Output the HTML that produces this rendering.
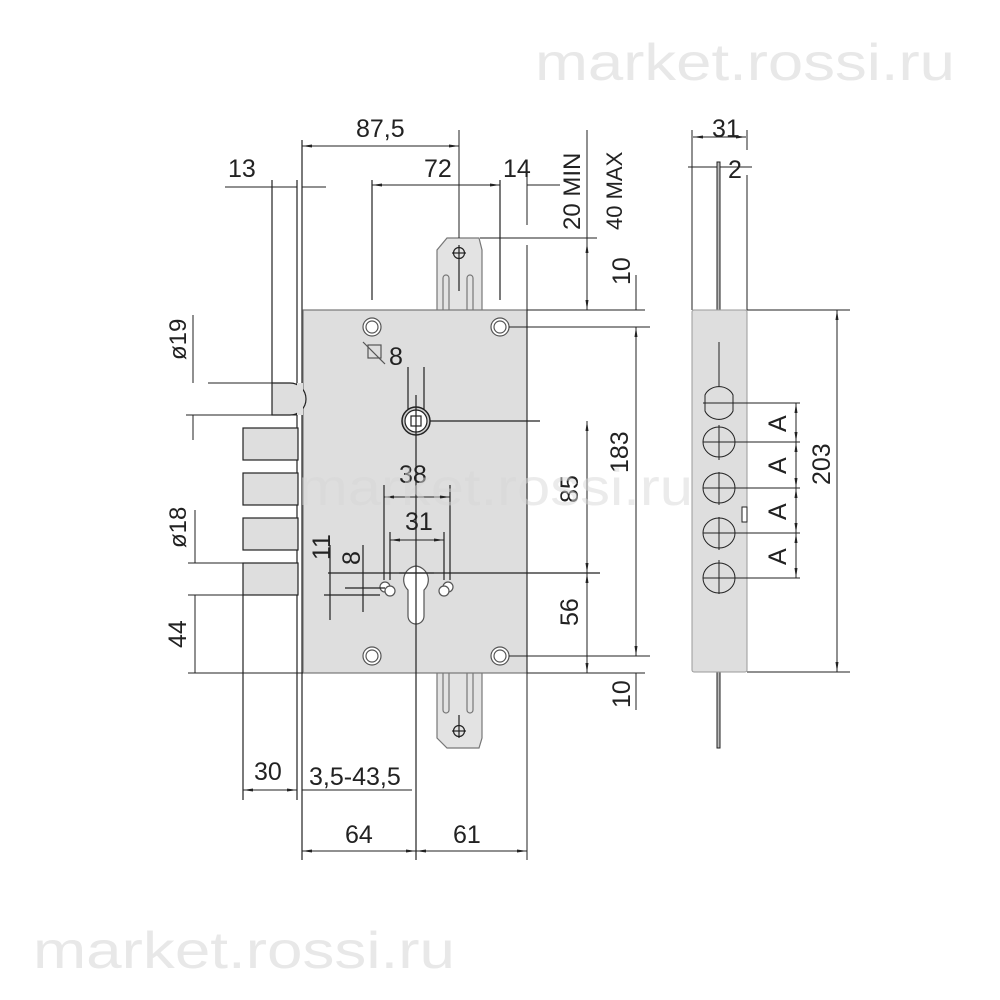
<!DOCTYPE html>
<html><head><meta charset="utf-8"><style>
html,body{margin:0;padding:0;background:#fff;width:1000px;height:1000px;overflow:hidden}
svg{display:block}
text{font-family:"Liberation Sans",sans-serif;fill:#222}
.d{font-size:24px}
</style></head><body>
<svg width="1000" height="1000" viewBox="0 0 1000 1000" xmlns="http://www.w3.org/2000/svg">
<defs>
<marker id="a" markerWidth="10" markerHeight="6" refX="10" refY="3" orient="auto-start-reverse" markerUnits="userSpaceOnUse"><path d="M0,1.5 L10,3 L0,4.5z" fill="#222"/></marker>
</defs>
<!-- watermarks -->
<text x="535" y="80" font-size="52" textLength="420" lengthAdjust="spacingAndGlyphs" style="fill:#e8e8e8">market.rossi.ru</text>
<text x="33" y="968" font-size="52" textLength="422" lengthAdjust="spacingAndGlyphs" style="fill:#e8e8e8">market.rossi.ru</text>

<g stroke="#222" stroke-width="1.2" fill="none">
<line x1="297" y1="180" x2="297" y2="800"/>
<line x1="302" y1="140" x2="302" y2="860"/>
<line x1="272" y1="180" x2="272" y2="383"/>
<line x1="243" y1="595" x2="243" y2="800"/>
<path d="M437,310 L437,250 L447,238 L479,238 L482,250 L482,310" fill="#e3e3e3" stroke="#777"/>
<circle cx="459" cy="253" r="5.5"/><line x1="452" y1="253" x2="466" y2="253"/><line x1="459" y1="245" x2="459" y2="291"/>
<path d="M443,310 V278 a3,3 0 0 1 6,0 V310 M467,310 V278 a3,3 0 0 1 6,0 V310" stroke="#777"/>
<path d="M437,673 L437,738 L447,748 L479,748 L482,738 L482,673" fill="#e3e3e3" stroke="#777"/>
<circle cx="459" cy="731" r="5.5"/><line x1="452" y1="731" x2="466" y2="731"/><line x1="459" y1="715" x2="459" y2="738"/>
<path d="M443,673 V710 a3,3 0 0 0 6,0 V673 M467,673 V710 a3,3 0 0 0 6,0 V673" stroke="#777"/>
<rect x="303" y="310" width="224" height="363" fill="#dedede" stroke="#777"/>
<path d="M272,383 H290 A16,16 0 0 1 290,415 H272 Z" fill="#dedede"/>
<rect x="297" y="383" width="6" height="32" fill="#dedede" stroke="none"/>
<rect x="243" y="428" width="55" height="32" fill="#dedede"/>
<rect x="243" y="473" width="55" height="32" fill="#dedede"/>
<rect x="243" y="518" width="55" height="32" fill="#dedede"/>
<rect x="243" y="563" width="55" height="32" fill="#dedede"/>
<g fill="#fff" stroke="#555">
<circle cx="372" cy="327" r="9"/><circle cx="372" cy="327" r="6"/>
<circle cx="500" cy="327" r="9"/><circle cx="500" cy="327" r="6"/>
<circle cx="372" cy="656" r="9"/><circle cx="372" cy="656" r="6"/>
<circle cx="500" cy="656" r="9"/><circle cx="500" cy="656" r="6"/>
</g>
<circle cx="416" cy="421" r="14" fill="#ccc" stroke="#222" stroke-width="1.5"/>
<circle cx="416" cy="421" r="11" fill="#fff"/>
<rect x="411" y="416" width="10" height="10" fill="#fff"/>
<line x1="416" y1="395" x2="416" y2="460"/>
<line x1="430" y1="421" x2="540" y2="421"/>
<line x1="372" y1="300" x2="372" y2="180"/>
<line x1="500" y1="300" x2="500" y2="180"/>
<path d="M408,590 V616 a8,8 0 0 0 16,0 V590 a14,14 0 0 0 -8,-24 a14,14 0 0 0 -8,24 Z" fill="#fff" stroke="#555"/>
<line x1="399" y1="573" x2="434" y2="573" stroke="#555"/>
<circle cx="385" cy="587" r="5" fill="#fff" stroke="#555"/><circle cx="390" cy="591" r="5" fill="#fff" stroke="#555"/>
<circle cx="448" cy="587" r="5" fill="#fff" stroke="#555"/><circle cx="444" cy="591" r="5" fill="#fff" stroke="#555"/>
<line x1="416" y1="460" x2="416" y2="860"/>
<line x1="328" y1="573" x2="600" y2="573"/>
<line x1="324" y1="595" x2="380" y2="595"/>
<line x1="345" y1="588" x2="385" y2="588"/>
<line x1="330" y1="545" x2="330" y2="620"/>
<line x1="363" y1="545" x2="363" y2="612"/>
<line x1="384" y1="485" x2="384" y2="580"/>
<line x1="450" y1="485" x2="450" y2="580"/>
<line x1="390" y1="532" x2="390" y2="580"/>
<line x1="444" y1="532" x2="444" y2="580"/>
<line x1="408" y1="367" x2="408" y2="410"/><line x1="424" y1="367" x2="424" y2="410"/>
<rect x="368" y="345" width="13" height="13" stroke="#555"/>
<line x1="363" y1="342" x2="385" y2="364" stroke="#555"/>
</g>

<g stroke="#222" stroke-width="1" fill="none" marker-start="url(#a)" marker-end="url(#a)">
<line x1="302" y1="146" x2="459" y2="146"/>
<line x1="372" y1="185" x2="500" y2="185"/>
<line x1="416" y1="497" x2="450" y2="497" marker-start="none"/>
<line x1="384" y1="497" x2="416" y2="497" marker-end="none"/>
<line x1="390" y1="540" x2="444" y2="540"/>
<line x1="243" y1="790" x2="297" y2="790"/>
<line x1="302" y1="851" x2="416" y2="851"/>
<line x1="416" y1="851" x2="527" y2="851"/>
<line x1="587" y1="421" x2="587" y2="573"/>
<line x1="587" y1="573" x2="587" y2="673"/>
<line x1="636" y1="327" x2="636" y2="656"/>
<line x1="587" y1="243" x2="587" y2="310"/>
<line x1="837" y1="310" x2="837" y2="672"/>
<line x1="693" y1="137" x2="746" y2="137"/>
<line x1="796" y1="403" x2="796" y2="442"/>
<line x1="796" y1="442" x2="796" y2="488"/>
<line x1="796" y1="488" x2="796" y2="533"/>
<line x1="796" y1="533" x2="796" y2="578"/>
</g>
<g stroke="#222" stroke-width="1" fill="none">
<line x1="459" y1="130" x2="459" y2="238"/>
<line x1="527" y1="160" x2="527" y2="225"/>
<line x1="527" y1="245" x2="527" y2="860"/>
<line x1="480" y1="238" x2="597" y2="238"/>
<line x1="527" y1="185" x2="560" y2="185"/>
<line x1="587" y1="130" x2="587" y2="243"/>
<line x1="527" y1="310" x2="645" y2="310"/>
<line x1="636" y1="275" x2="636" y2="310"/>
<line x1="509" y1="327" x2="650" y2="327"/>
<line x1="509" y1="656" x2="650" y2="656"/>
<line x1="527" y1="673" x2="645" y2="673"/>
<line x1="636" y1="673" x2="636" y2="710"/>
<line x1="225" y1="187" x2="272" y2="187"/><line x1="302" y1="187" x2="326" y2="187"/>
<line x1="272" y1="187" x2="297" y2="187"/>
<line x1="208" y1="383" x2="272" y2="383"/>
<line x1="186" y1="415" x2="297" y2="415"/>
<line x1="193" y1="315" x2="193" y2="383"/><line x1="193" y1="415" x2="193" y2="440"/>
<line x1="188" y1="563" x2="243" y2="563"/>
<line x1="188" y1="595" x2="243" y2="595"/>
<line x1="188" y1="673" x2="303" y2="673"/>
<line x1="195" y1="510" x2="195" y2="563"/><line x1="195" y1="595" x2="195" y2="673"/>
<line x1="243" y1="760" x2="243" y2="800"/>
<line x1="302" y1="790" x2="412" y2="790"/>
</g>

<g stroke="#222" stroke-width="1" fill="none">
<line x1="692" y1="130" x2="692" y2="310"/>
<line x1="747" y1="130" x2="747" y2="150"/>
<line x1="747" y1="175" x2="747" y2="310"/>
<line x1="688" y1="167" x2="752" y2="167"/>
<rect x="717" y="162" width="3" height="148" fill="#bbb"/>
<rect x="717" y="672" width="3" height="76" fill="#bbb"/>
<rect x="692" y="310" width="55" height="362" rx="2" fill="#dedede" stroke="#999"/>
<line x1="747" y1="310" x2="850" y2="310"/>
<line x1="747" y1="672" x2="850" y2="672"/>
<line x1="719" y1="342" x2="719" y2="420"/>
<path d="M705,395 a15,13 0 0 1 28,0 v16 a15,13 0 0 1 -28,0 Z" fill="#dedede"/>
<ellipse cx="719" cy="442" rx="16" ry="15"/>
<ellipse cx="719" cy="488" rx="16" ry="15"/>
<ellipse cx="719" cy="533" rx="16" ry="15"/>
<ellipse cx="719" cy="578" rx="16" ry="15"/>
<line x1="719" y1="425" x2="719" y2="460"/><line x1="719" y1="472" x2="719" y2="505"/>
<line x1="719" y1="517" x2="719" y2="550"/><line x1="719" y1="560" x2="719" y2="594"/>
<line x1="703" y1="403" x2="800" y2="403"/>
<line x1="703" y1="442" x2="800" y2="442"/>
<line x1="703" y1="488" x2="800" y2="488"/>
<line x1="703" y1="533" x2="800" y2="533"/>
<line x1="703" y1="578" x2="800" y2="578"/>
<rect x="742" y="507" width="5" height="15" fill="#fff"/>
</g>

<g class="d">
<text x="356" y="137" font-size="25">87,5</text>
<text x="424" y="177" font-size="25">72</text>
<text x="228" y="177" font-size="25">13</text>
<text x="503" y="177" font-size="25">14</text>
<text x="712" y="137" font-size="25">31</text>
<text x="728" y="178" font-size="25">2</text>
<text x="389" y="365" font-size="25">8</text>
<text x="399" y="483" font-size="25">38</text>
<text x="405" y="530" font-size="25">31</text>
<text x="254" y="780" font-size="25">30</text>
<text x="309" y="785" font-size="25">3,5-43,5</text>
<text x="345" y="843" font-size="25">64</text>
<text x="453" y="843" font-size="25">61</text>
<text transform="translate(580,230) rotate(-90)" font-size="24">20 MIN</text>
<text transform="translate(622,230) rotate(-90)" font-size="22">40 MAX</text>
<text transform="translate(630,285) rotate(-90)" font-size="25">10</text>
<text transform="translate(630,708) rotate(-90)" font-size="25">10</text>
<text transform="translate(578,503) rotate(-90)" font-size="25">85</text>
<text transform="translate(578,626) rotate(-90)" font-size="25">56</text>
<text transform="translate(628,473) rotate(-90)" font-size="25">183</text>
<text transform="translate(830,485) rotate(-90)" font-size="25">203</text>
<text transform="translate(186,360) rotate(-90)" font-size="24">ø19</text>
<text transform="translate(186,548) rotate(-90)" font-size="24">ø18</text>
<text transform="translate(186,648) rotate(-90)" font-size="25">44</text>
<text transform="translate(330,560) rotate(-90)" font-size="25">11</text>
<text transform="translate(360,565) rotate(-90)" font-size="25">8</text>
<text transform="translate(786,432) rotate(-90)" font-size="25">A</text>
<text transform="translate(786,474) rotate(-90)" font-size="25">A</text>
<text transform="translate(786,520) rotate(-90)" font-size="25">A</text>
<text transform="translate(786,565) rotate(-90)" font-size="25">A</text>
</g>
<text x="298" y="505" font-size="52" textLength="395" lengthAdjust="spacingAndGlyphs" style="fill:#d8d8d8;opacity:0.5">market.rossi.ru</text>
</svg>
</body></html>
